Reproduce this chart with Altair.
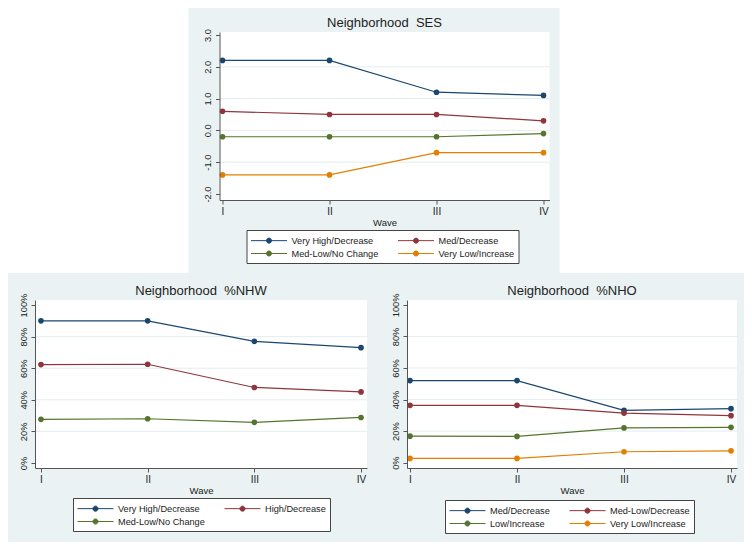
import json
import altair as alt
import pandas as pd

# ---------------- data ----------------
waves = ["I", "II", "III", "IV"]
wave_num = [1, 2, 3, 4]

ses_groups = ["Very High/Decrease", "Med/Decrease", "Med-Low/No Change", "Very Low/Increase"]
ses_very_high = [2.2, 2.2, 1.2, 1.1]
ses_med = [0.6, 0.5, 0.5, 0.3]
ses_med_low = [-0.2, -0.2, -0.2, -0.1]
ses_very_low = [-1.4, -1.4, -0.7, -0.7]
ses_ticks = [-2, -1, 0, 1, 2, 3]

nhw_groups = ["Very High/Decrease", "High/Decrease", "Med-Low/No Change"]
nhw_very_high = [90, 90, 77, 73]
nhw_high = [62.3, 62.5, 47.8, 45]
nhw_med_low = [27.6, 28, 25.7, 28.8]

nho_groups = ["Med/Decrease", "Med-Low/Decrease", "Low/Increase", "Very Low/Increase"]
nho_med = [52, 52, 33.1, 34.2]
nho_med_low = [36.3, 36.3, 31.4, 29.8]
nho_low = [16.8, 16.6, 22, 22.4]
nho_very_low = [2.7, 2.7, 6.9, 7.5]
pct_ticks = [0, 20, 40, 60, 80, 100]

colors = ["#1A476F", "#90353B", "#55752F", "#E37E00"]

# ---------------- style ----------------
FONT = "Liberation Sans, Arial, Helvetica, sans-serif"
BG = "#EAF2F3"
GRID = "#E4EDEF"
AX = "#555555"
TXT = "#222222"

# legend key: a line with a dot in the middle (rings so it reads filled)
SYM = ("M -1 0 L 5 0 "
       "M 2.42 0 A 0.42 0.42 0 1 1 1.58 0 A 0.42 0.42 0 1 1 2.42 0 "
       "M 2.28 0 A 0.28 0.28 0 1 1 1.72 0 A 0.28 0.28 0 1 1 2.28 0 "
       "M 2.14 0 A 0.14 0.14 0 1 1 1.86 0 A 0.14 0.14 0 1 1 2.14 0")

x_label_expr = json.dumps(waves) + "[datum.value - 1]"
ses_label_expr = "(datum.value < 0 ? '-' : '') + format(abs(datum.value), '.1f')"
pct_label_expr = "datum.value + '%'"


def panel(title, groups, series, ticks, label_expr, ydomain, xdomain,
          W, H, L, R, T, B, lx, ly):
    rows = []
    for g, vals in zip(groups, series):
        for w, v in zip(wave_num, vals):
            rows.append({"wave": w, "value": v, "group": g})
    df = pd.DataFrame(rows)
    deco = pd.DataFrame({"k": [0]})
    grid_df = pd.DataFrame({"value": ticks[1:-1]})

    yscale = alt.Scale(domain=ydomain, nice=False, zero=False)
    xscale = alt.Scale(domain=xdomain, nice=False, zero=False)
    cscale = alt.Scale(domain=groups, range=colors[:len(groups)])

    x = alt.X("wave:Q", scale=xscale,
              axis=alt.Axis(values=wave_num, labelExpr=x_label_expr, title="Wave",
                            grid=False, labelFontSize=10, labelPadding=2,
                            titleFontSize=9.5, titlePadding=1, titleFontWeight="normal",
                            tickSize=4, zindex=1, labelFlush=False))
    y = alt.Y("value:Q", scale=yscale,
              axis=alt.Axis(values=ticks, labelExpr=label_expr, title=None,
                            grid=False, labelAngle=270, labelAlign="center",
                            labelBaseline="bottom", labelFontSize=9.3, labelPadding=3,
                            tickSize=4, zindex=1, labelFlush=False, labelOverlap=False))

    bg = alt.Chart(deco).mark_rect(color=BG).encode(
        x=alt.value(-L), x2=alt.value(W + R), y=alt.value(-T), y2=alt.value(H + B))
    white = alt.Chart(deco).mark_rect(color="white").encode(
        x=alt.value(0), x2=alt.value(W), y=alt.value(0), y2=alt.value(H))
    grid = alt.Chart(grid_df).mark_rule(color=GRID, strokeWidth=1).encode(y=y)

    lines = alt.Chart(df).mark_line(strokeWidth=1.2).encode(
        x=x, y=y,
        color=alt.Color("group:N", scale=cscale,
                        legend=alt.Legend(title=None, orient="none", legendX=lx, legendY=ly,
                                          columns=2, direction="horizontal",
                                          symbolType=SYM, symbolSize=144,
                                          symbolStrokeWidth=1, labelOffset=28,
                                          columnPadding=17, rowPadding=1, padding=4,
                                          strokeColor="#444444", fillColor="white",
                                          labelFont=FONT, labelFontSize=9.2,
                                          labelColor=TXT, zindex=1)))
    points = alt.Chart(df).mark_point(filled=True, size=32, opacity=1).encode(
        x=x, y=y,
        color=alt.Color("group:N", scale=cscale, legend=None))

    return alt.layer(bg, white, grid, lines, points).properties(
        width=W, height=H,
        title=alt.TitleParams(title, font=FONT, fontSize=13, fontWeight="normal",
                              color=TXT, frame="group", anchor="middle",
                              offset=-(T - 2)))


top = panel("Neighborhood\u00a0 SES", ses_groups,
            [ses_very_high, ses_med, ses_med_low, ses_very_low],
            ses_ticks, ses_label_expr, [-2.19, 3.094], [0.972, 4.056],
            330, 168, 31, 10, 24, 73, 27, 198)
left = panel("Neighborhood\u00a0 %NHW", nhw_groups,
             [nhw_very_high, nhw_high, nhw_med_low],
             pct_ticks, pct_label_expr, [-3.2, 103.2], [0.944, 4.056],
             332, 168, 27, 9, 27, 74, 38, 198)
right = panel("Neighborhood\u00a0 %NHO", nho_groups,
              [nho_med, nho_med_low, nho_low, nho_very_low],
              pct_ticks, pct_label_expr, [-3.4, 103.1], [0.972, 4.056],
              330, 168, 31, 7, 27, 74, 38, 200)

bottom = alt.hconcat(left, right, spacing=0).resolve_scale(
    x="independent", y="independent", color="independent").resolve_legend(color="independent")

chart = alt.vconcat(top, bottom, spacing=0, center=True).resolve_scale(
    x="independent", y="independent", color="independent").resolve_legend(
    color="independent").configure(
    padding=0, background="white", font=FONT).configure_view(
    stroke=None).configure_axis(
    domainColor=AX, tickColor=AX, labelColor=TXT, titleColor=TXT,
    labelFont=FONT, titleFont=FONT, domainWidth=1, tickWidth=1)

chart.save("out.html", embed_options={"renderer": "svg", "actions": False})
